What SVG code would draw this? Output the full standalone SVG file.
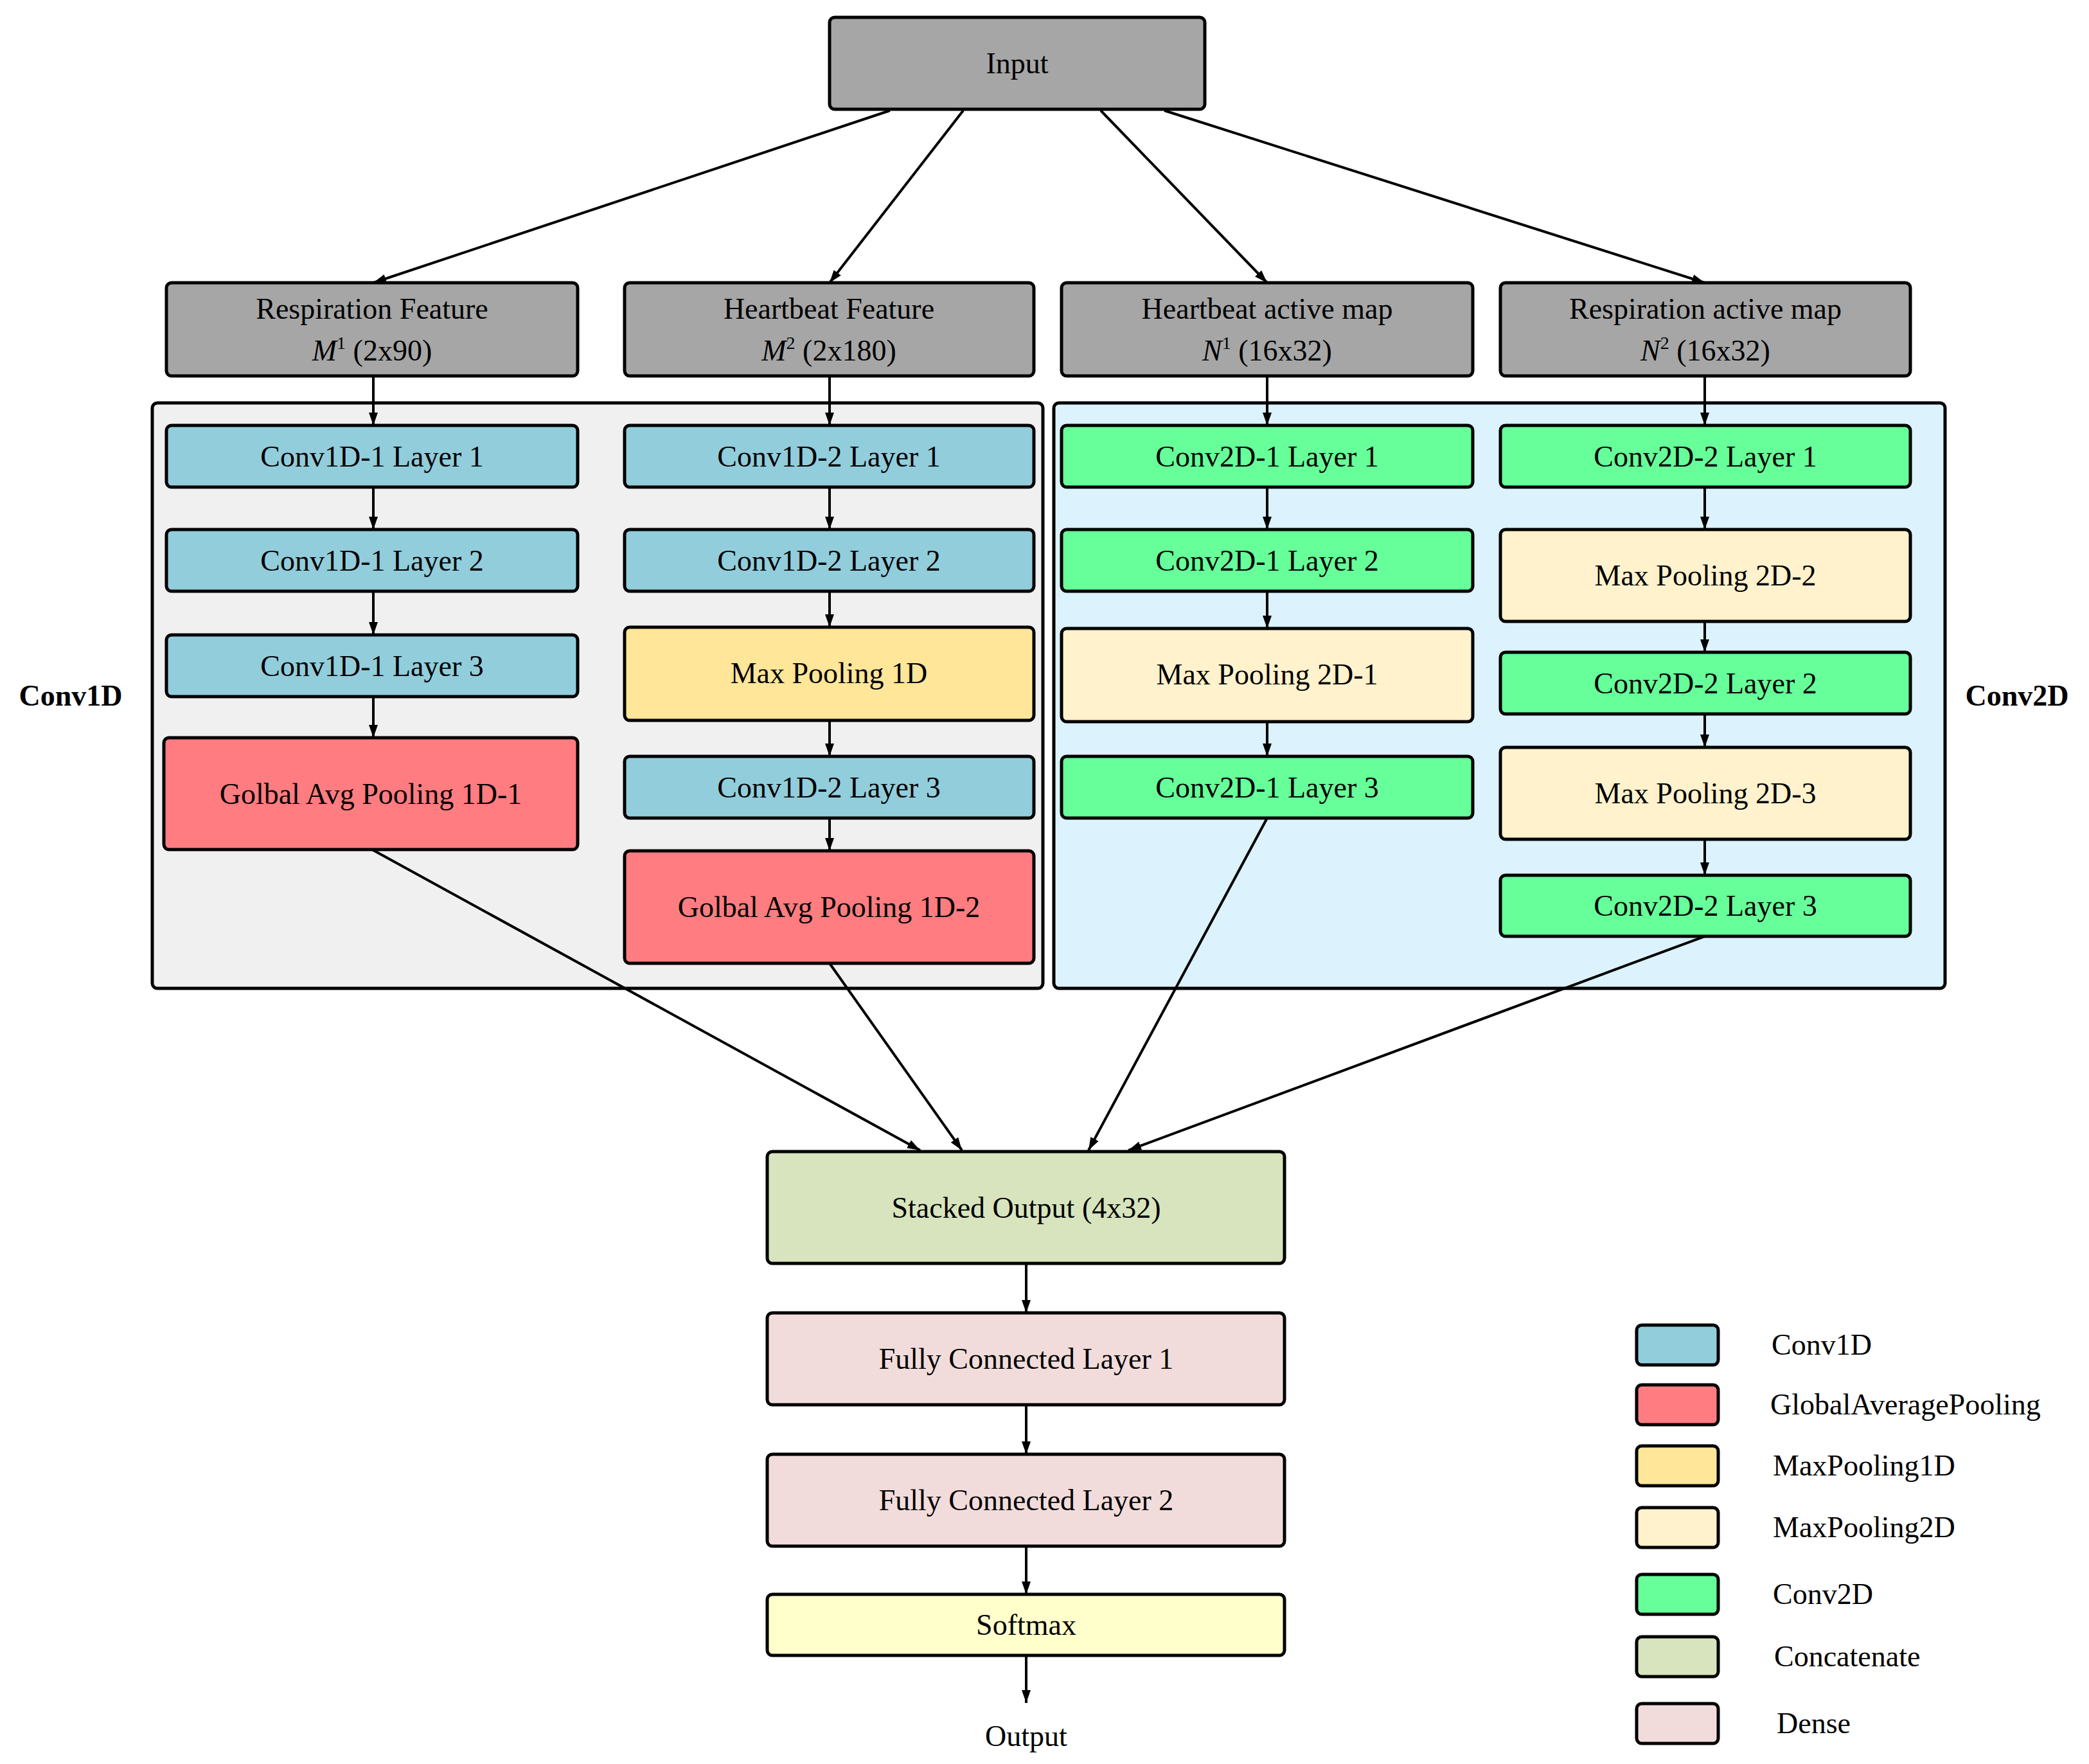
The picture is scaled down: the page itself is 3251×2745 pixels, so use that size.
<svg xmlns="http://www.w3.org/2000/svg" width="3251" height="2745" viewBox="0 0 3251 2745">
<style>
.b{stroke:#000;stroke-width:5}
text{font-family:"Liberation Serif","Times New Roman",serif;font-size:46px;text-anchor:middle;fill:#000}
.g{fill:#a6a6a6}.c1{fill:#92cddc}.r{fill:#ff7c80}.m1{fill:#ffe699}.m2{fill:#fff2cc}.c2{fill:#66ff99}.cc{fill:#d7e4bd}.d{fill:#f2dcdb}.s{fill:#ffffcc}
.e{stroke:#000;stroke-width:4;fill:none;marker-end:url(#a)}
</style>
<defs><marker id="a" viewBox="0 0 10 10" refX="10" refY="5" markerWidth="5" markerHeight="5" orient="auto" markerUnits="strokeWidth"><path d="M0,1.5L10,5L0,8.5z"/></marker></defs>
<rect width="3251" height="2745" fill="#fff"/>
<g id="panels">
<rect x="237" y="627" width="1386" height="911" rx="8" fill="#f0f0f0" class="b"/>
<rect x="1640" y="627" width="1387" height="911" rx="8" fill="#dcf2fc" class="b"/>
<text x="110" y="1098" font-weight="bold">Conv1D</text>
<text x="3139" y="1098" font-weight="bold">Conv2D</text>
</g>
<g id="connectors">
<path class="e" d="M1385,172L581,440"/><path class="e" d="M1499,172L1291,440"/><path class="e" d="M1713,172L1972,440"/><path class="e" d="M1812,172L2653,440"/>
<path class="e" d="M581,585V662"/><path class="e" d="M1291,585V662"/><path class="e" d="M1972,585V662"/><path class="e" d="M2653,585V662"/>
<path class="e" d="M581,758V824"/><path class="e" d="M581,920V988"/><path class="e" d="M581,1084V1148"/>
<path class="e" d="M1291,758V824"/><path class="e" d="M1291,920V976"/><path class="e" d="M1291,1121V1177"/><path class="e" d="M1291,1273V1324"/>
<path class="e" d="M1972,758V824"/><path class="e" d="M1972,920V978"/><path class="e" d="M1972,1123V1177"/>
<path class="e" d="M2653,758V824"/><path class="e" d="M2653,967V1015"/><path class="e" d="M2653,1111V1163"/><path class="e" d="M2653,1306V1362"/>
<path class="e" d="M579,1322L1432,1790"/><path class="e" d="M1291,1499L1497,1790"/><path class="e" d="M1972,1273L1694,1790"/><path class="e" d="M2653,1457L1756,1790"/>
<path class="e" d="M1597,1966V2043"/><path class="e" d="M1597,2186V2263"/><path class="e" d="M1597,2406V2481"/><path class="e" d="M1597,2576V2650"/>
</g>
<g id="input"><rect x="1291" y="27" width="584" height="143" rx="8" class="b g"/><text x="1583" y="114">Input</text></g>
<g id="resp-feature"><rect x="259" y="440" width="640" height="145" rx="8" class="b g"/><text x="579" y="496">Respiration Feature</text><text x="579" y="561"><tspan font-style="italic">M</tspan><tspan font-size="28" dy="-18">1</tspan><tspan dy="18"> (2x90)</tspan></text></g>
<g id="heart-feature"><rect x="972" y="440" width="637" height="145" rx="8" class="b g"/><text x="1290" y="496">Heartbeat Feature</text><text x="1290" y="561"><tspan font-style="italic">M</tspan><tspan font-size="28" dy="-18">2</tspan><tspan dy="18"> (2x180)</tspan></text></g>
<g id="heart-map"><rect x="1652" y="440" width="640" height="145" rx="8" class="b g"/><text x="1972" y="496">Heartbeat active map</text><text x="1972" y="561"><tspan font-style="italic">N</tspan><tspan font-size="28" dy="-18">1</tspan><tspan dy="18"> (16x32)</tspan></text></g>
<g id="resp-map"><rect x="2335" y="440" width="638" height="145" rx="8" class="b g"/><text x="2654" y="496">Respiration active map</text><text x="2654" y="561"><tspan font-style="italic">N</tspan><tspan font-size="28" dy="-18">2</tspan><tspan dy="18"> (16x32)</tspan></text></g>
<g id="c11"><rect x="259" y="662" width="640" height="96" rx="8" class="b c1"/><text x="579" y="726">Conv1D-1 Layer 1</text></g>
<g id="c12"><rect x="259" y="824" width="640" height="96" rx="8" class="b c1"/><text x="579" y="888">Conv1D-1 Layer 2</text></g>
<g id="c13"><rect x="259" y="988" width="640" height="96" rx="8" class="b c1"/><text x="579" y="1052">Conv1D-1 Layer 3</text></g>
<g id="gap1"><rect x="255" y="1148" width="644" height="174" rx="8" class="b r"/><text x="577" y="1251">Golbal Avg Pooling 1D-1</text></g>
<g id="c21"><rect x="972" y="662" width="637" height="96" rx="8" class="b c1"/><text x="1290" y="726">Conv1D-2 Layer 1</text></g>
<g id="c22"><rect x="972" y="824" width="637" height="96" rx="8" class="b c1"/><text x="1290" y="888">Conv1D-2 Layer 2</text></g>
<g id="mp1d"><rect x="972" y="976" width="637" height="145" rx="8" class="b m1"/><text x="1290" y="1063">Max Pooling 1D</text></g>
<g id="c23"><rect x="972" y="1177" width="637" height="96" rx="8" class="b c1"/><text x="1290" y="1241">Conv1D-2 Layer 3</text></g>
<g id="gap2"><rect x="972" y="1324" width="637" height="175" rx="8" class="b r"/><text x="1290" y="1427">Golbal Avg Pooling 1D-2</text></g>
<g id="d11"><rect x="1652" y="662" width="640" height="96" rx="8" class="b c2"/><text x="1972" y="726">Conv2D-1 Layer 1</text></g>
<g id="d12"><rect x="1652" y="824" width="640" height="96" rx="8" class="b c2"/><text x="1972" y="888">Conv2D-1 Layer 2</text></g>
<g id="mp2d1"><rect x="1652" y="978" width="640" height="145" rx="8" class="b m2"/><text x="1972" y="1065">Max Pooling 2D-1</text></g>
<g id="d13"><rect x="1652" y="1177" width="640" height="96" rx="8" class="b c2"/><text x="1972" y="1241">Conv2D-1 Layer 3</text></g>
<g id="d21"><rect x="2335" y="662" width="638" height="96" rx="8" class="b c2"/><text x="2654" y="726">Conv2D-2 Layer 1</text></g>
<g id="mp2d2"><rect x="2335" y="824" width="638" height="143" rx="8" class="b m2"/><text x="2654" y="911">Max Pooling 2D-2</text></g>
<g id="d22"><rect x="2335" y="1015" width="638" height="96" rx="8" class="b c2"/><text x="2654" y="1079">Conv2D-2 Layer 2</text></g>
<g id="mp2d3"><rect x="2335" y="1163" width="638" height="143" rx="8" class="b m2"/><text x="2654" y="1250">Max Pooling 2D-3</text></g>
<g id="d23"><rect x="2335" y="1362" width="638" height="95" rx="8" class="b c2"/><text x="2654" y="1425">Conv2D-2 Layer 3</text></g>
<g id="stacked"><rect x="1194" y="1792" width="805" height="174" rx="8" class="b cc"/><text x="1597" y="1895">Stacked Output (4x32)</text></g>
<g id="fc1"><rect x="1194" y="2043" width="805" height="143" rx="8" class="b d"/><text x="1597" y="2130">Fully Connected Layer 1</text></g>
<g id="fc2"><rect x="1194" y="2263" width="805" height="143" rx="8" class="b d"/><text x="1597" y="2350">Fully Connected Layer 2</text></g>
<g id="softmax"><rect x="1194" y="2481" width="805" height="95" rx="8" class="b s"/><text x="1597" y="2544">Softmax</text></g>
<g id="output"><text x="1597" y="2717">Output</text></g>
<g id="legend" text-anchor="start">
<rect x="2547" y="2062" width="127" height="62" rx="8" class="b c1"/><text x="2757" y="2108" style="text-anchor:start">Conv1D</text>
<rect x="2547" y="2155" width="127" height="62" rx="8" class="b r"/><text x="2755" y="2201" style="text-anchor:start">GlobalAveragePooling</text>
<rect x="2547" y="2250" width="127" height="62" rx="8" class="b m1"/><text x="2759" y="2296" style="text-anchor:start">MaxPooling1D</text>
<rect x="2547" y="2346" width="127" height="62" rx="8" class="b m2"/><text x="2759" y="2392" style="text-anchor:start">MaxPooling2D</text>
<rect x="2547" y="2450" width="127" height="62" rx="8" class="b c2"/><text x="2759" y="2496" style="text-anchor:start">Conv2D</text>
<rect x="2547" y="2547" width="127" height="62" rx="8" class="b cc"/><text x="2761" y="2593" style="text-anchor:start">Concatenate</text>
<rect x="2547" y="2651" width="127" height="62" rx="8" class="b d"/><text x="2765" y="2697" style="text-anchor:start">Dense</text>
</g>
</svg>
